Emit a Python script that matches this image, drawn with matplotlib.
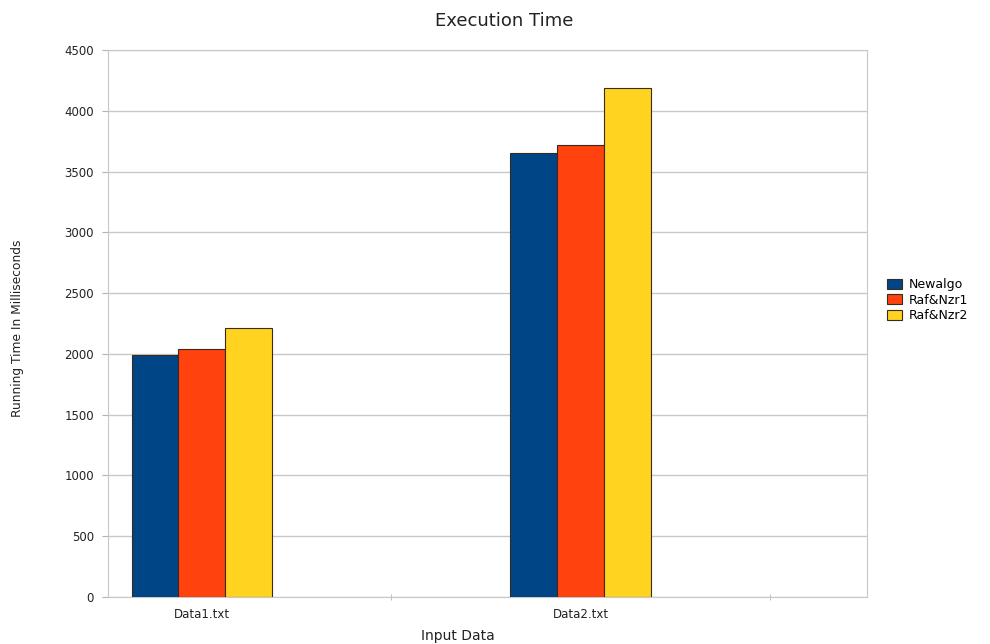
import numpy as np
import matplotlib.pyplot as plt

categories = ['Data1.txt', 'Data2.txt']
series = ['Newalgo', 'Raf&Nzr1', 'Raf&Nzr2']
newalgo = [1990, 3650]
raf_nzr1 = [2040, 3722]
raf_nzr2 = [2210, 4190]
colors = ['#004586', '#ff420e', '#ffd320']

fig = plt.figure(figsize=(9.9, 6.44), dpi=100)
ax = fig.add_axes([0.1091, 0.073, 0.7667, 0.8494])

x = np.arange(len(categories))
w = 0.124
for i, (vals, c, lab) in enumerate(zip([newalgo, raf_nzr1, raf_nzr2], colors, series)):
    ax.bar(x + (i - 1) * w, vals, w, color=c, edgecolor='#3a2a1a', lw=0.8,
           label=lab, zorder=3)

ax.set_ylim(0, 4500)
ax.set_xlim(-0.248, 1.755)
ax.set_yticks(np.arange(0, 4501, 500))
ax.set_xticks(x)
ax.set_xticklabels(categories)
ax.set_xticks([0.5, 1.5], minor=True)
ax.tick_params(axis='x', which='major', length=0, pad=8)
ax.tick_params(axis='x', which='minor', length=4, color='#b3b3b3', direction='inout')
ax.tick_params(axis='y', length=4, color='#b3b3b3', pad=6)
for lbl in ax.get_xticklabels() + ax.get_yticklabels():
    lbl.set_fontsize(8.5)
    lbl.set_color('#222222')

ax.grid(axis='y', color='#c8c8c8', lw=1, zorder=0)
for s in ax.spines.values():
    s.set_color('#c8c8c8')

fig.text(0.509, 0.968, 'Execution Time', ha='center', va='center', fontsize=13,
         color='#222222')
fig.text(0.018, 0.49, 'Running Time In Milliseconds', rotation=90, ha='center',
         va='center', fontsize=8.8, color='#222222')
fig.text(0.462, 0.012, 'Input Data', ha='center', va='center', fontsize=10,
         color='#222222')

ax.legend(loc='center left', bbox_to_anchor=(0.885, 0.534), bbox_transform=fig.transFigure,
          frameon=False, fontsize=9, handlelength=1.2, handleheight=0.8,
          handletextpad=0.5, labelspacing=0.2)

fig.savefig('out.png', dpi=100)
